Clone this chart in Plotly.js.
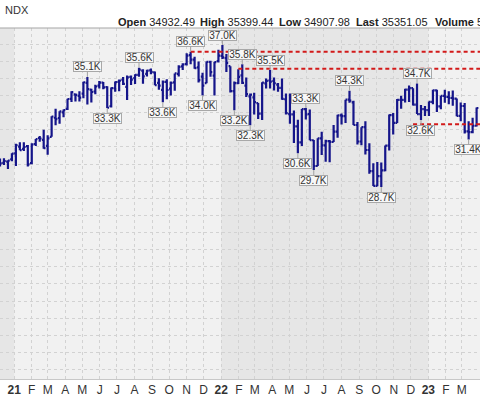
<!DOCTYPE html>
<html>
<head>
<meta charset="utf-8">
<script src="https://cdn.plot.ly/plotly-3.0.1.min.js"></script>
<style>html,body{margin:0;padding:0;background:#fff;}#chart{width:480px;height:396px;}</style>
</head>
<body>
<div id="chart"></div>
<script>
// Weekly bars (Monday of each week)
const weeks = ["2020-12-07","2020-12-14","2020-12-21","2020-12-28","2021-01-04","2021-01-11","2021-01-18","2021-01-25","2021-02-01","2021-02-08","2021-02-15","2021-02-22","2021-03-01","2021-03-08","2021-03-15","2021-03-22","2021-03-29","2021-04-05","2021-04-12","2021-04-19","2021-04-26","2021-05-03","2021-05-10","2021-05-17","2021-05-24","2021-05-31","2021-06-07","2021-06-14","2021-06-21","2021-06-28","2021-07-05","2021-07-12","2021-07-19","2021-07-26","2021-08-02","2021-08-09","2021-08-16","2021-08-23","2021-08-30","2021-09-06","2021-09-13","2021-09-20","2021-09-27","2021-10-04","2021-10-11","2021-10-18","2021-10-25","2021-11-01","2021-11-08","2021-11-15","2021-11-22","2021-11-29","2021-12-06","2021-12-13","2021-12-20","2021-12-27","2022-01-03","2022-01-10","2022-01-17","2022-01-24","2022-01-31","2022-02-07","2022-02-14","2022-02-21","2022-02-28","2022-03-07","2022-03-14","2022-03-21","2022-03-28","2022-04-04","2022-04-11","2022-04-18","2022-04-25","2022-05-02","2022-05-09","2022-05-16","2022-05-23","2022-05-30","2022-06-06","2022-06-13","2022-06-20","2022-06-27","2022-07-04","2022-07-11","2022-07-18","2022-07-25","2022-08-01","2022-08-08","2022-08-15","2022-08-22","2022-08-29","2022-09-05","2022-09-12","2022-09-19","2022-09-26","2022-10-03","2022-10-10","2022-10-17","2022-10-24","2022-10-31","2022-11-07","2022-11-14","2022-11-21","2022-11-28","2022-12-05","2022-12-12","2022-12-19","2022-12-26","2023-01-02","2023-01-09","2023-01-16","2023-01-23","2023-01-30","2023-02-06","2023-02-13","2023-02-20","2023-02-27","2023-03-06","2023-03-13","2023-03-20","2023-03-27"];
const openV = [30233,30070,30149,30283,30627,31015,30887,31049,30055,31171,31523,31414,31066,31589,32705,32691,33024,33222,33810,34074,33982,34113,34743,34346,34238,34584,34759,34490,33377,34428,34800,34925,34513,35095,35019,35208,35460,35263,35470,35360,34738,34333,34798,34409,34769,35262,35711,35833,36366,36100,35648,35112,34722,35966,35167,36007,36321,36183,35718,34265,34731,35174,34576,33951,33893,33564,32945,34708,34879,34857,34636,34445,33785,32916,32898,32196,31262,33214,32914,31390,29889,31500,31097,31338,31288,31899,32845,32803,33761,33600,32283,31318,32152,30822,29590,28726,29297,29635,31083,32862,32403,33748,33746,34347,34430,33477,32920,33204,33148,33631,34303,33375,33978,33926,33870,33827,32817,33391,31910,31862,32238];
const highV = [30320,30337,30226,30637,31193,31272,31280,31111,31211,31469,31644,32010,31684,32793,33227,33088,33190,33810,34256,34115,34257,34811,35092,34405,34631,34849,34794,34545,34475,34823,34939,35092,35171,35171,35246,35631,35532,35510,35577,35405,35012,34880,34950,34825,35293,35765,35893,36472,36566,36268,35991,35330,35990,36035,35982,36679,36953,36421,35718,34822,35530,35824,35050,34114,34167,33565,34779,34999,35492,35055,34737,35000,34116,34117,33135,32595,33220,33272,33190,31402,31505,31885,31423,31400,32285,32880,32947,33762,34281,33700,32455,32155,32504,31218,30051,30115,30090,31089,32900,32980,33800,33987,34395,34595,34430,34712,33450,33387,33647,34342,34342,33990,34335,34250,34300,33827,33600,33572,32500,32700,33300];
const lowV = [29857,29942,29706,30171,29882,30801,30766,29857,29990,31051,31304,30900,30547,31589,32270,32355,32740,33160,33630,33654,33660,33845,33473,33596,34083,34417,34363,33272,33304,34223,34248,34613,33741,34612,34680,35102,34690,35110,35250,34607,34333,33613,33785,34002,34275,35109,35487,35761,35835,35560,34768,33999,34722,35104,34006,35930,36135,35370,34186,33150,34677,34675,33913,32273,32900,32633,32578,34420,34420,34300,34220,33760,32900,32352,31229,30636,31061,32598,31386,29653,29888,30524,30143,30102,31288,31543,32305,32396,33584,32283,31149,31099,30565,29439,28716,28700,28661,29583,30800,31727,32403,33230,33596,33627,33417,32920,32573,32812,32812,33500,33040,33200,33580,33500,33400,32800,32500,31787,31430,31805,32200];
const closeV = [30046,30179,30200,30606,31098,30814,30997,29983,31148,31458,31494,30932,31496,32779,32628,33072,33153,33800,34200,34043,33875,34778,34382,34208,34529,34756,34480,33290,34433,34786,34870,34687,35062,34935,35209,35515,35120,35456,35369,34608,34584,34798,34326,34746,35295,35677,35820,36328,36100,35602,34899,34580,35971,35365,35950,36338,36232,35912,34265,34725,35089,34738,34079,34059,33615,32944,34755,34861,34818,34721,34451,33811,32977,32899,32197,31262,33213,32900,31393,29889,31501,31097,31338,31288,31899,32845,32803,33761,33706,32283,31318,32152,30822,29590,28726,29297,29635,31083,32862,32403,33748,33746,34347,34430,33477,32920,33204,33147,33631,34303,33375,33978,33926,33870,33827,32817,33391,31910,31862,32238,33274];

// Swing-point labels
const peakWeeks = ["2021-05-10","2021-08-09","2021-11-08","2022-01-03","2022-02-07","2022-03-28","2022-05-30","2022-08-15","2022-12-12"];
const peakVals  = [35092,35631,36566,36953,35824,35492,33272,34281,34712];
const peakText  = ["35.1K","35.6K","36.6K","37.0K","35.8K","35.5K","33.3K","34.3K","34.7K"];
const troughWeeks = ["2021-06-14","2021-09-20","2021-11-29","2022-01-24","2022-02-21","2022-05-16","2022-06-13","2022-10-10","2022-12-19","2023-03-13"];
const troughVals  = [33272,33613,33999,33150,32273,30636,29653,28661,32573,31430];
const troughText  = ["33.3K","33.6K","34.0K","33.2K","32.3K","30.6K","29.7K","28.7K","32.6K","31.4K"];

// Horizontal resistance / support levels (start week, level)
const levelStart = ["2021-11-08","2022-01-31","2022-12-05"];
const levelVals  = [36566,35560,32330];
const levelEnd = "2023-04-05";

// Axis: month starts and labels
const monthTicks = ["2020-12-01","2021-01-01","2021-02-01","2021-03-01","2021-04-01","2021-05-01","2021-06-01","2021-07-01","2021-08-01","2021-09-01","2021-10-01","2021-11-01","2021-12-01","2022-01-01","2022-02-01","2022-03-01","2022-04-01","2022-05-01","2022-06-01","2022-07-01","2022-08-01","2022-09-01","2022-10-01","2022-11-01","2022-12-01","2023-01-01","2023-02-01","2023-03-01","2023-04-01"];
const monthText = ["D","<b>21</b>","F","M","A","M","J","J","A","S","O","N","D","<b>22</b>","F","M","A","M","J","J","A","S","O","N","D","<b>23</b>","F","M","A"];
const shadedYears = [["2020-11-01","2021-01-01"],["2022-01-01","2023-01-01"]];

const headerLabels = ["Open","High","Low","Last","Volume"];
const headerValues = ["34932.49","35399.44","34907.98","35351.05","5"];
const tickerText = "NDX";

const FONT = "Liberation Sans, Arial, sans-serif";
const BAR = "#15158a";

const trace = {
  type: "ohlc",
  x: weeks, open: openV, high: highV, low: lowV, close: closeV,
  increasing: {line: {color: BAR, width: 2.2}},
  decreasing: {line: {color: BAR, width: 2.2}},
  tickwidth: 0.45,
  hoverinfo: "skip"
};

const levelTraces = levelStart.map((s, i) => ({
  type: "scatter", mode: "lines",
  x: [s, levelEnd], y: [levelVals[i], levelVals[i]],
  line: {color: "#d21a1a", width: 2, dash: "4px,3px"},
  hoverinfo: "skip", showlegend: false
}));

const ann = [];
const boxStyle = {
  showarrow: true, arrowhead: 0, arrowwidth: 1, arrowcolor: "#a0a0a0",
  bgcolor: "#f7f7f7", bordercolor: "#a8a8a8", borderwidth: 1, borderpad: 0,
  width: 27, height: 9,
  font: {family: FONT, size: 10, color: "#333"},
  ax: 0, xref: "x", yref: "y"
};
peakWeeks.forEach((w, i) => ann.push(Object.assign({}, boxStyle, {x: w, y: peakVals[i], text: peakText[i], ay: -10})));
troughWeeks.forEach((w, i) => ann.push(Object.assign({}, boxStyle, {x: w, y: troughVals[i], text: troughText[i], ay: 10})));

ann.push({xref: "paper", yref: "paper", x: 3 / 480, y: 1.051, xanchor: "left", yanchor: "middle", showarrow: false,
  text: tickerText, font: {family: FONT, size: 11, color: "#333"}});
const headerX = [116, 198, 277, 354, 433];
headerLabels.forEach((l, i) => ann.push({xref: "paper", yref: "paper", x: headerX[i] / 480, y: 1.0171,
  xanchor: "left", yanchor: "middle", showarrow: false,
  text: "<b>" + l + "</b> " + headerValues[i],
  font: {family: FONT, size: 11, color: "#222"}}));

const shapes = shadedYears.map(r => ({type: "rect", xref: "x", yref: "paper", x0: r[0], x1: r[1], y0: 0, y1: 1,
  fillcolor: "#e6e6e6", line: {width: 0}, layer: "below"}));
shapes.push({type: "line", xref: "paper", yref: "paper", x0: 0, x1: 1, y0: 1, y1: 1, line: {color: "#a5a5a5", width: 1}});

const layout = {
  width: 480, height: 396,
  margin: {l: 0, r: 0, t: 28, b: 17},
  paper_bgcolor: "#ffffff", plot_bgcolor: "#f1f1f1",
  showlegend: false,
  xaxis: {
    type: "date", range: ["2020-12-07", "2023-04-02"],
    tickvals: monthTicks, ticktext: monthText, ticks: "",
    showgrid: true, gridcolor: "#d2d2d2", griddash: "dot", gridwidth: 1,
    tickfont: {family: FONT, size: 12, color: "#333"},
    showline: true, linecolor: "#c8c8c8", zeroline: false,
    rangeslider: {visible: false}, fixedrange: true
  },
  yaxis: {
    range: [17450, 37946], dtick: 1000, tick0: 0,
    showticklabels: false, ticks: "",
    showgrid: true, gridcolor: "#d2d2d2", griddash: "dot", gridwidth: 1,
    zeroline: false, fixedrange: true
  },
  annotations: ann,
  shapes: shapes
};

Plotly.newPlot("chart", [trace].concat(levelTraces), layout, {staticPlot: true, displayModeBar: false});
</script>
</body>
</html>
